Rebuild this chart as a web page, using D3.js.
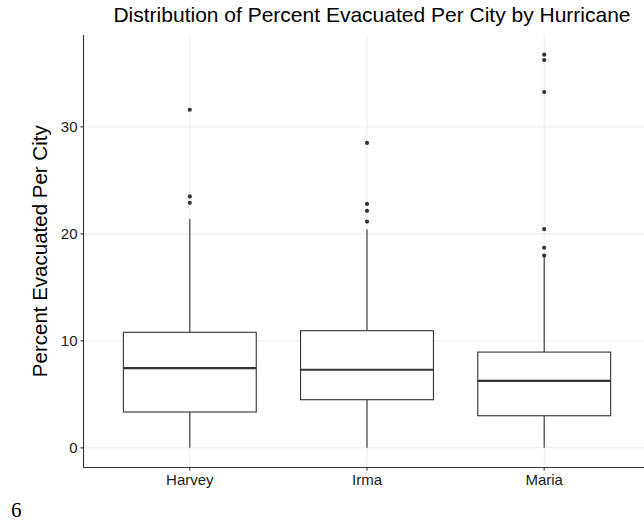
<!DOCTYPE html>
<html lang="en">
<head>
    <meta charset="UTF-8">
    <title>Percent Evacuated Per City by Hurricane</title>
    <style>
        body { margin: 0; background: #fff; }
        svg { display: block; }
        .tick-label { font-family: "Liberation Sans", Arial, sans-serif; font-size: 15px; fill: #1a1a1a; }
        .title { font-family: "Liberation Sans", Arial, sans-serif; font-size: 21px; fill: #000; }
        .ylab { font-family: "Liberation Sans", Arial, sans-serif; font-size: 20.5px; fill: #000; }
        .pagenum { font-family: "Liberation Serif", "DejaVu Serif", serif; font-size: 21px; fill: #000; }
    </style>
</head>
<body>
    <svg width="644" height="521"></svg>

    <script src="https://d3js.org/d3.v7.min.js"></script>
    <script>
        // Data
        const categories = ["Harvey", "Irma", "Maria"];
        const whiskerLow = [0, 0, 0];
        const q1 = [3.35, 4.5, 3.0];
        const median = [7.45, 7.3, 6.25];
        const q3 = [10.8, 10.95, 8.95];
        const whiskerHigh = [21.4, 20.4, 17.85];
        const outliers = [
            [22.9, 23.5, 31.6],
            [21.15, 22.15, 22.8, 28.5],
            [17.97, 18.7, 20.45, 33.25, 36.25, 36.75]
        ];
        const yTicks = [0, 10, 20, 30];

        const svg = d3.select("svg");

        // panel
        const pLeft = 83.5, pRight = 650.5, pTop = 35, pBottom = 467.5;

        const x = d3.scalePoint()
            .domain(categories)
            .range([pLeft, pRight])
            .padding(0.6);

        const maxVal = d3.max(outliers.flat().concat(whiskerHigh));
        const pad = maxVal * 0.05;
        const y = d3.scaleLinear()
            .domain([0 - pad, maxVal + pad])
            .range([pBottom, pTop]);

        // grid
        svg.selectAll(".hgrid")
            .data(yTicks)
            .enter().append("line")
            .attr("x1", pLeft).attr("x2", pRight)
            .attr("y1", d => y(d)).attr("y2", d => y(d))
            .attr("stroke", "#ebebeb").attr("stroke-width", 1);

        svg.selectAll(".vgrid")
            .data(categories)
            .enter().append("line")
            .attr("x1", d => x(d)).attr("x2", d => x(d))
            .attr("y1", pTop).attr("y2", pBottom)
            .attr("stroke", "#ebebeb").attr("stroke-width", 1);

        const boxW = x.step() * 0.75;
        const boxes = categories.map((c, i) => ({
            cat: c, lo: whiskerLow[i], q1: q1[i], med: median[i], q3: q3[i], hi: whiskerHigh[i], out: outliers[i]
        }));

        const g = svg.selectAll(".box")
            .data(boxes)
            .enter().append("g")
            .attr("class", "box");

        // whiskers
        g.append("line")
            .attr("x1", d => x(d.cat)).attr("x2", d => x(d.cat))
            .attr("y1", d => y(d.q3)).attr("y2", d => y(d.hi))
            .attr("stroke", "#333").attr("stroke-width", 1.1);
        g.append("line")
            .attr("x1", d => x(d.cat)).attr("x2", d => x(d.cat))
            .attr("y1", d => y(d.q1)).attr("y2", d => y(d.lo))
            .attr("stroke", "#333").attr("stroke-width", 1.1);

        // box
        g.append("rect")
            .attr("x", d => x(d.cat) - boxW / 2)
            .attr("width", boxW)
            .attr("y", d => y(d.q3))
            .attr("height", d => y(d.q1) - y(d.q3))
            .attr("fill", "#fff")
            .attr("stroke", "#333").attr("stroke-width", 1.1);

        // median
        g.append("line")
            .attr("x1", d => x(d.cat) - boxW / 2).attr("x2", d => x(d.cat) + boxW / 2)
            .attr("y1", d => y(d.med)).attr("y2", d => y(d.med))
            .attr("stroke", "#333").attr("stroke-width", 2.2);

        // outliers
        g.selectAll("circle")
            .data(d => d.out.map(v => ({ cat: d.cat, v: v })))
            .enter().append("circle")
            .attr("cx", d => x(d.cat))
            .attr("cy", d => y(d.v))
            .attr("r", 2.1)
            .attr("fill", "#333");

        // axes lines
        svg.append("line")
            .attr("x1", pLeft).attr("x2", pLeft)
            .attr("y1", pTop).attr("y2", pBottom)
            .attr("stroke", "#333").attr("stroke-width", 1.1);
        svg.append("line")
            .attr("x1", pLeft).attr("x2", pRight)
            .attr("y1", pBottom).attr("y2", pBottom)
            .attr("stroke", "#333").attr("stroke-width", 1.1);

        // y ticks
        svg.selectAll(".ytick")
            .data(yTicks)
            .enter().append("line")
            .attr("x1", pLeft - 3).attr("x2", pLeft)
            .attr("y1", d => y(d)).attr("y2", d => y(d))
            .attr("stroke", "#333").attr("stroke-width", 1.1);
        svg.selectAll(".ylabel")
            .data(yTicks)
            .enter().append("text")
            .attr("class", "tick-label")
            .attr("x", pLeft - 6)
            .attr("y", d => y(d))
            .attr("dy", "0.35em")
            .attr("text-anchor", "end")
            .text(d => d);

        // x ticks
        svg.selectAll(".xtick")
            .data(categories)
            .enter().append("line")
            .attr("x1", d => x(d)).attr("x2", d => x(d))
            .attr("y1", pBottom).attr("y2", pBottom + 3)
            .attr("stroke", "#333").attr("stroke-width", 1.1);
        svg.selectAll(".xlabel")
            .data(categories)
            .enter().append("text")
            .attr("class", "tick-label")
            .attr("x", d => x(d))
            .attr("y", pBottom + 17)
            .attr("text-anchor", "middle")
            .text(d => d);

        // titles
        svg.append("text")
            .attr("class", "title")
            .attr("x", 372)
            .attr("y", 22)
            .attr("text-anchor", "middle")
            .text("Distribution of Percent Evacuated Per City by Hurricane");

        svg.append("text")
            .attr("class", "ylab")
            .attr("transform", `translate(47,${(pTop + pBottom) / 2}) rotate(-90)`)
            .attr("text-anchor", "middle")
            .text("Percent Evacuated Per City");

        svg.append("text")
            .attr("class", "pagenum")
            .attr("x", 11)
            .attr("y", 517)
            .text("6");
    </script>
</body>
</html>
